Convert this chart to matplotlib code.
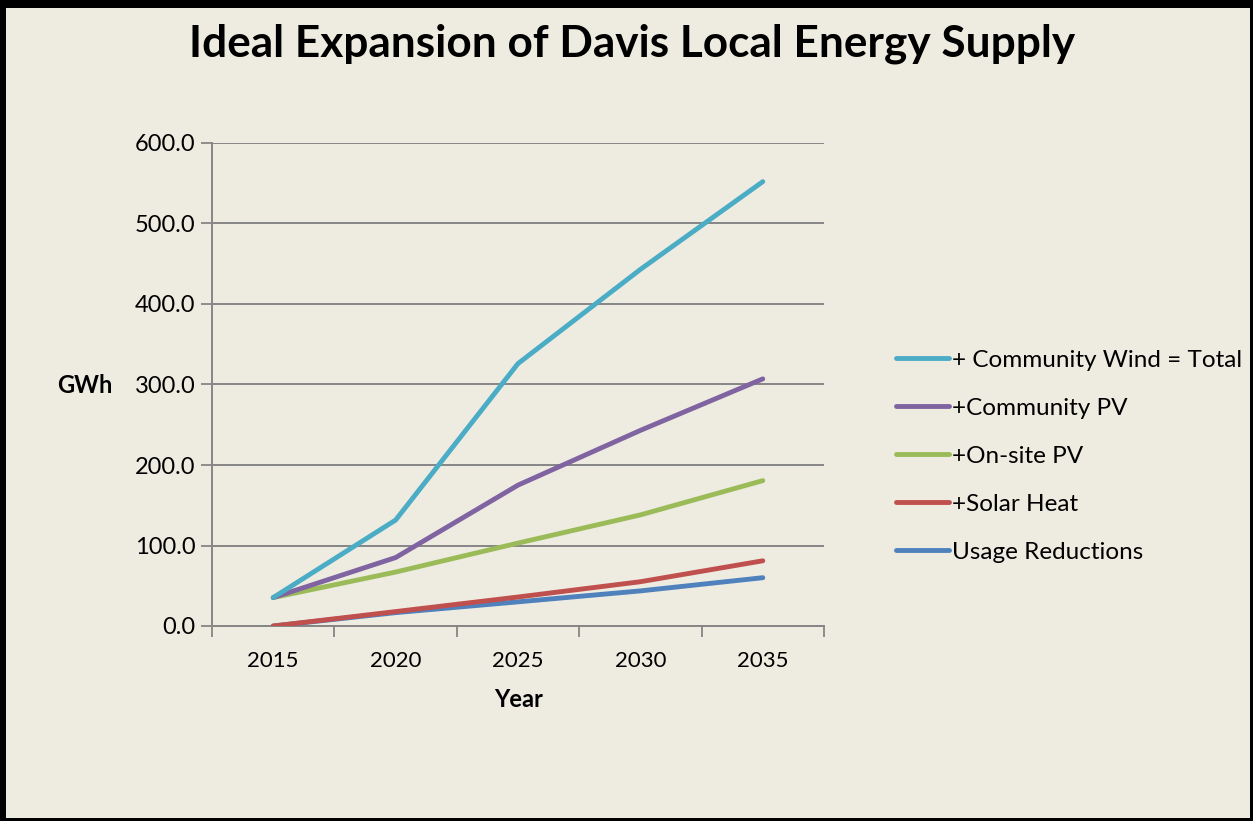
import matplotlib
matplotlib.use("Agg")
import matplotlib.pyplot as plt
from matplotlib.patches import Rectangle
import numpy as np

years = ["2015", "2020", "2025", "2030", "2035"]
usage_reductions = [0.0, 16.6, 30.0, 43.6, 60.0]
solar_heat = [0.0, 17.9, 36.0, 55.0, 81.0]
onsite_pv = [35.3, 67.0, 103.0, 138.0, 180.6]
community_pv = [35.3, 85.0, 175.0, 243.0, 307.0]
community_wind_total = [35.3, 131.6, 326.0, 443.0, 552.0]

series_names = ["Usage Reductions", "+Solar Heat", "+On-site PV",
                "+Community PV", "+ Community Wind = Total"]
series_values = [usage_reductions, solar_heat, onsite_pv, community_pv, community_wind_total]
series_colors = ["#4F81BD", "#C0504D", "#9BBB59", "#8064A2", "#4BACC6"]

y_ticks = [0, 100, 200, 300, 400, 500, 600]

plt.rcParams['font.family'] = ['Lato', 'DejaVu Sans']

W, H = 1253, 821
fig = plt.figure(figsize=(W / 100, H / 100), dpi=100)
bg = "#EEECE1"
fig.patch.set_facecolor(bg)

ax = fig.add_axes([212 / W, 1 - 626 / H, (824 - 212) / W, (626 - 143) / H])
ax.set_facecolor(bg)

x = np.arange(len(years))
handles = []
for name, vals, col in zip(series_names, series_values, series_colors):
    ln, = ax.plot(x, vals, color=col, lw=3.5, solid_capstyle='round',
                  solid_joinstyle='round', label=name, zorder=3)
    handles.append(ln)

ax.set_xlim(-0.5, len(years) - 0.5)
ax.set_ylim(0, 600)
ax.set_yticks(y_ticks)
ax.set_yticklabels([f"{v:.1f}" for v in y_ticks], fontsize=17)
ax.set_xticks(np.arange(len(years) + 1) - 0.5)
ax.set_xticklabels([])
ax.set_xticks(x, minor=True)
ax.set_xticklabels(years, minor=True, fontsize=16)
ax.tick_params(axis='x', which='minor', length=0, pad=18)
ax.tick_params(axis='x', which='major', length=8, width=1.3, color="#868686", direction='out')
ax.tick_params(axis='y', length=8, width=1.3, color="#868686", direction='out', pad=4)

grid_col = "#868686"
ax.yaxis.grid(True, color=grid_col, lw=1.4, zorder=1)
ax.set_axisbelow(True)
for s in ['top', 'right']:
    ax.spines[s].set_visible(False)
for s in ['left', 'bottom']:
    ax.spines[s].set_color(grid_col)
    ax.spines[s].set_linewidth(1.4)

fig.text(519 / W, 1 - 699 / H, "Year", ha='center', va='center', fontsize=17, fontweight='bold')
fig.text(85 / W, 1 - 385 / H, "GWh", ha='center', va='center', fontsize=17, fontweight='bold')
fig.text(632 / W, 1 - 44 / H, "Ideal Expansion of Davis Local Energy Supply",
         ha='center', va='center', fontsize=31.8, fontweight='bold')

leg = fig.legend(handles[::-1], series_names[::-1], loc='upper left',
                 bbox_to_anchor=(886 / W, 1 - 340 / H), frameon=False,
                 fontsize=17.5, handlelength=2.2, handletextpad=0.1, labelspacing=1.11,
                 borderaxespad=0)

# black border
fig.add_artist(Rectangle((0, 1 - 8 / H), 1, 8 / H, transform=fig.transFigure, color='black', lw=0))
fig.add_artist(Rectangle((0, 0), 6 / W, 1, transform=fig.transFigure, color='black', lw=0))
fig.add_artist(Rectangle((0, 0), 1, 3 / H, transform=fig.transFigure, color='black', lw=0))
fig.add_artist(Rectangle((1 - 3 / W, 0), 3 / W, 1, transform=fig.transFigure, color='black', lw=0))

fig.savefig("out.png", dpi=100, facecolor=fig.get_facecolor())
